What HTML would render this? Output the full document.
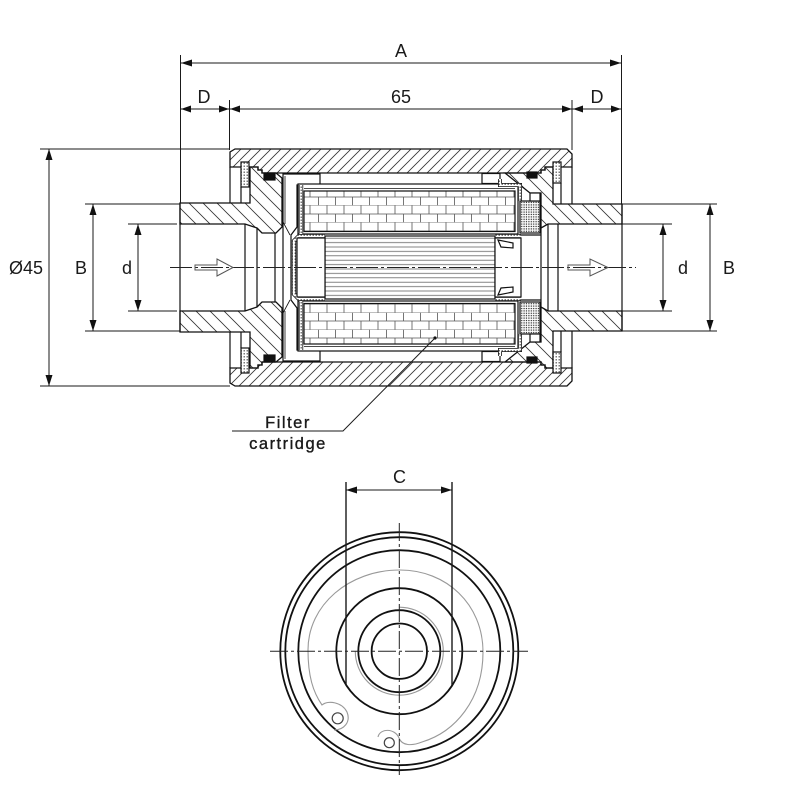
<!DOCTYPE html>
<html><head><meta charset="utf-8"><style>
html,body{margin:0;padding:0;background:#fff;}
svg{display:block;}
text{font-family:"Liberation Sans",sans-serif;fill:#1a1a1a;}
</style></head><body>
<svg width="800" height="800" viewBox="0 0 800 800" xmlns="http://www.w3.org/2000/svg">
<defs>
<pattern id="hH" patternUnits="userSpaceOnUse" width="10" height="10"><path d="M-2,2 L2,-2 M0,10 L10,0 M8,12 L12,8" stroke="#333" stroke-width="0.8" fill="none"/></pattern>
<pattern id="hHf" patternUnits="userSpaceOnUse" width="10" height="10"><path d="M0,0 L10,10 M-2,8 L2,12 M8,-2 L12,2" stroke="#333" stroke-width="0.8" fill="none"/></pattern>
<pattern id="hC" patternUnits="userSpaceOnUse" width="14" height="14"><path d="M0,0 L14,14 M-2,12 L2,16 M12,-2 L16,2" stroke="#333" stroke-width="0.8" fill="none"/></pattern>
<pattern id="hCf" patternUnits="userSpaceOnUse" width="14" height="14"><path d="M-2,2 L2,-2 M0,14 L14,0 M12,16 L16,12" stroke="#333" stroke-width="0.8" fill="none"/></pattern>
<pattern id="dots" patternUnits="userSpaceOnUse" width="3" height="3"><rect width="3" height="3" fill="#fff"/><rect x="0.6" y="0.6" width="1.2" height="1.2" fill="#333"/></pattern>
<pattern id="dots2" patternUnits="userSpaceOnUse" width="2.4" height="2.4"><rect width="2.4" height="2.4" fill="#fff"/><rect x="0.3" y="0.3" width="1.2" height="1.2" fill="#222"/></pattern>
<pattern id="brick" patternUnits="userSpaceOnUse" width="17" height="17" patternTransform="translate(0,188.5)"><rect width="17" height="17" fill="#fff"/><path d="M0,8.5 H17 M0,17 H17 M4,0 V8.5 M12.5,8.5 V17" stroke="#555" stroke-width="0.8" fill="none"/></pattern>
<pattern id="core" patternUnits="userSpaceOnUse" width="8" height="4.4" patternTransform="translate(0,236)"><rect width="8" height="4.4" fill="#fff"/><path d="M0,2.2 H8" stroke="#666" stroke-width="0.8"/></pattern>

<path id="hs" d="M235,149 H567 L572,154 V167 H545 V170 H541 V173 H262 V170 H258 V167 H230 V152 Z"/>
<path id="cap" d="M180,203 H250 V167 H258 V170 H262 V173 H276 L282,178 V227 L276,233 H262 L257,228 L245,224 H180 Z"/>
<path id="cap2" d="M622,204 H553 V167 H545 V170 H541 V173 H505 L530,193 H541 V228 L548,224 H622 Z"/>

<g id="NH" fill="none" stroke="#111" stroke-width="1.2">
 <path d="M230,167 V203 M241,187 V203"/>
 <rect x="241" y="162" width="8" height="25" fill="url(#dots)"/>
 <path d="M572,167 V204 M561,183 V204"/>
 <rect x="553" y="162" width="8" height="21" fill="url(#dots)"/>
 <rect x="264" y="173" width="11" height="7" fill="#111"/>
 <rect x="527" y="172" width="10" height="6" fill="#111"/>
 <path d="M180,203 V267.5 M622,204 V267.5 M245,224 V267.5 M257,228 V267.5 M275,233 V267.5 M541,228 V267.5 M548,224 V267.5 M558,224 V267.5"/>
 <path d="M291,267.5 V235 L297,227 V185 H320 V174 H283 V267.5" fill="#fff"/>
 <path d="M283,222 L290,235 M285,176 V224" stroke-width="0.8"/>
 <rect x="482" y="173.5" width="18" height="10" fill="#fff"/>
 <rect x="298" y="184" width="220" height="50" fill="#fff"/>
 <path d="M304,188.5 H515" stroke-width="0.8"/>
 <rect x="304" y="191" width="211" height="40.5" fill="url(#brick)"/>
 <path d="M301,185 V234 L294,241 V267.5" stroke-width="4.4"/>
 <path d="M301,185 V234 L294,241 V267.5" stroke="url(#dots)" stroke-width="2.8"/>
 <path d="M298,236 H325" stroke-width="4"/>
 <path d="M298,236 H325" stroke="url(#dots)" stroke-width="2.4"/>
 <path d="M495,236 H521" stroke-width="4"/>
 <path d="M495,236 H521" stroke="url(#dots)" stroke-width="2.4"/>
 <path d="M500,179 V185 H520 V201" stroke-width="4"/>
 <path d="M500,179 V185 H520 V201" stroke="url(#dots)" stroke-width="2.4"/>
 <rect x="520" y="201" width="20" height="32" fill="url(#dots2)"/>
 <rect x="530" y="193" width="10" height="8" fill="#fff"/>
 <path d="M521,235 H541"/>
</g>
</defs>

<use href="#hs" fill="url(#hH)" stroke="#111" stroke-width="1.3"/>
<use href="#hs" transform="matrix(1,0,0,-1,0,535)" fill="url(#hHf)" stroke="#111" stroke-width="1.3"/>
<use href="#cap" fill="url(#hC)" stroke="#111" stroke-width="1.3"/>
<use href="#cap" transform="matrix(1,0,0,-1,0,535)" fill="url(#hCf)" stroke="#111" stroke-width="1.3"/>
<use href="#cap2" fill="url(#hC)" stroke="#111" stroke-width="1.3"/>
<use href="#cap2" transform="matrix(1,0,0,-1,0,535)" fill="url(#hCf)" stroke="#111" stroke-width="1.3"/>

<use href="#NH"/>
<use href="#NH" transform="matrix(1,0,0,-1,0,535)"/>

<g stroke="#111" stroke-width="1.2">
 <rect x="325" y="236" width="170" height="63" fill="url(#core)"/>
 <rect x="297" y="238" width="28" height="59" fill="#fff"/>
 <rect x="495" y="238" width="26" height="59" fill="#fff"/>
 <path d="M498,240 L513,243 V248 L501,247 Z M498,295 L513,292 V287 L501,288 Z" fill="#fff"/>
</g>

<line x1="170" y1="267.5" x2="636" y2="267.5" stroke="#222" stroke-width="1" stroke-dasharray="22 3 3 3"/>
<g fill="none" stroke="#555" stroke-width="1">
 <polygon points="195,265 217,265 217,259 233,267.5 217,276 217,270 195,270"/>
 <polygon points="568,265 590,265 590,259 608,267.5 590,276 590,270 568,270"/>
</g>

<g stroke="#1a1a1a" stroke-width="1" fill="none">
 <line x1="180.5" y1="55" x2="180.5" y2="203"/>
 <line x1="621.5" y1="55" x2="621.5" y2="204"/>
 <line x1="229.5" y1="100" x2="229.5" y2="150"/>
 <line x1="572" y1="100" x2="572" y2="150"/>
 <line x1="181" y1="63" x2="621" y2="63"/>
 <line x1="181" y1="109" x2="621" y2="109"/>
 <line x1="40" y1="149" x2="230" y2="149"/>
 <line x1="40" y1="386" x2="230" y2="386"/>
 <line x1="49" y1="149" x2="49" y2="386"/>
 <line x1="85" y1="204" x2="180" y2="204"/>
 <line x1="85" y1="331" x2="180" y2="331"/>
 <line x1="93" y1="204" x2="93" y2="331"/>
 <line x1="128" y1="224" x2="177" y2="224"/>
 <line x1="128" y1="311" x2="177" y2="311"/>
 <line x1="138" y1="224" x2="138" y2="311"/>
 <line x1="622" y1="224" x2="672" y2="224"/>
 <line x1="622" y1="311" x2="672" y2="311"/>
 <line x1="663" y1="224" x2="663" y2="311"/>
 <line x1="622" y1="204" x2="717" y2="204"/>
 <line x1="622" y1="331" x2="717" y2="331"/>
 <line x1="710" y1="204" x2="710" y2="331"/>
</g>
<g fill="#111">
 <polygon points="181,63 192,59.5 192,66.5"/>
 <polygon points="621,63 610,59.5 610,66.5"/>
 <polygon points="181,109 191,105.5 191,112.5"/>
 <polygon points="229,109 219,105.5 219,112.5"/>
 <polygon points="230,109 240,105.5 240,112.5"/>
 <polygon points="572,109 562,105.5 562,112.5"/>
 <polygon points="573,109 583,105.5 583,112.5"/>
 <polygon points="621,109 611,105.5 611,112.5"/>
 <polygon points="49,149 45.5,160 52.5,160"/>
 <polygon points="49,386 45.5,375 52.5,375"/>
 <polygon points="93,204 89.5,215 96.5,215"/>
 <polygon points="93,331 89.5,320 96.5,320"/>
 <polygon points="138,224 134.5,235 141.5,235"/>
 <polygon points="138,311 134.5,300 141.5,300"/>
 <polygon points="663,224 659.5,235 666.5,235"/>
 <polygon points="663,311 659.5,300 666.5,300"/>
 <polygon points="710,204 706.5,215 713.5,215"/>
 <polygon points="710,331 706.5,320 713.5,320"/>
</g>
<g font-size="18" text-anchor="middle">
 <text x="401" y="57">A</text>
 <text x="401" y="103">65</text>
 <text x="204" y="103">D</text>
 <text x="597" y="103">D</text>
 <text x="26" y="274">Ø45</text>
 <text x="81" y="274">B</text>
 <text x="127" y="274">d</text>
 <text x="683" y="274">d</text>
 <text x="729" y="274">B</text>
 <text x="399.5" y="483">C</text>
</g>

<circle cx="435" cy="338" r="1.6" fill="#111"/>
<path d="M435,338 L343,431 H232" fill="none" stroke="#1a1a1a" stroke-width="1"/>
<g font-size="16.5" text-anchor="middle" letter-spacing="1.5" stroke="#1a1a1a" stroke-width="0.35">
 <text x="288" y="428">Filter</text>
 <text x="288" y="449">cartridge</text>
</g>

<g fill="none" stroke="#111" stroke-width="1.8">
 <circle cx="399.3" cy="651.2" r="119"/>
 <circle cx="399.3" cy="651.2" r="114"/>
 <circle cx="399.3" cy="651.2" r="101"/>
 <circle cx="399.3" cy="651.2" r="63"/>
 <circle cx="399.3" cy="651.2" r="41"/>
 <circle cx="399.3" cy="651.2" r="27.7"/>
</g>
<g fill="none" stroke="#999" stroke-width="1.1">
 <path d="M378,737 C380,728 395,728 399,738 C402,746 412,746 422,742 C455,732 483,700 483,652 C483,604 446,570 400,570 C349,570 308,605 308,650 C308,676 313,692 322,705 C328,700 342,702 347,712 C351,722 344,730 334,730"/>
 <path d="M399.3,607.2 A44,44 0 1 1 355.3,651.2"/>
</g>
<g fill="none" stroke="#444" stroke-width="1.2">
 <circle cx="337.7" cy="718.3" r="5.5"/>
 <circle cx="389.3" cy="742.7" r="5"/>
</g>
<g stroke="#1a1a1a" stroke-width="1.4" fill="none">
 <line x1="346" y1="482" x2="346" y2="685.5"/>
 <line x1="452" y1="482" x2="452" y2="685.5"/>
</g>
<line x1="346" y1="490" x2="452" y2="490" stroke="#1a1a1a" stroke-width="1"/>
<polygon points="346,490 357,486.5 357,493.5" fill="#111"/>
<polygon points="452,490 441,486.5 441,493.5" fill="#111"/>
<g stroke="#222" stroke-width="1" stroke-dasharray="18 3 3 3">
 <line x1="270" y1="651.2" x2="528" y2="651.2"/>
 <line x1="399.3" y1="523" x2="399.3" y2="775"/>
</g>
</svg>
</body></html>
